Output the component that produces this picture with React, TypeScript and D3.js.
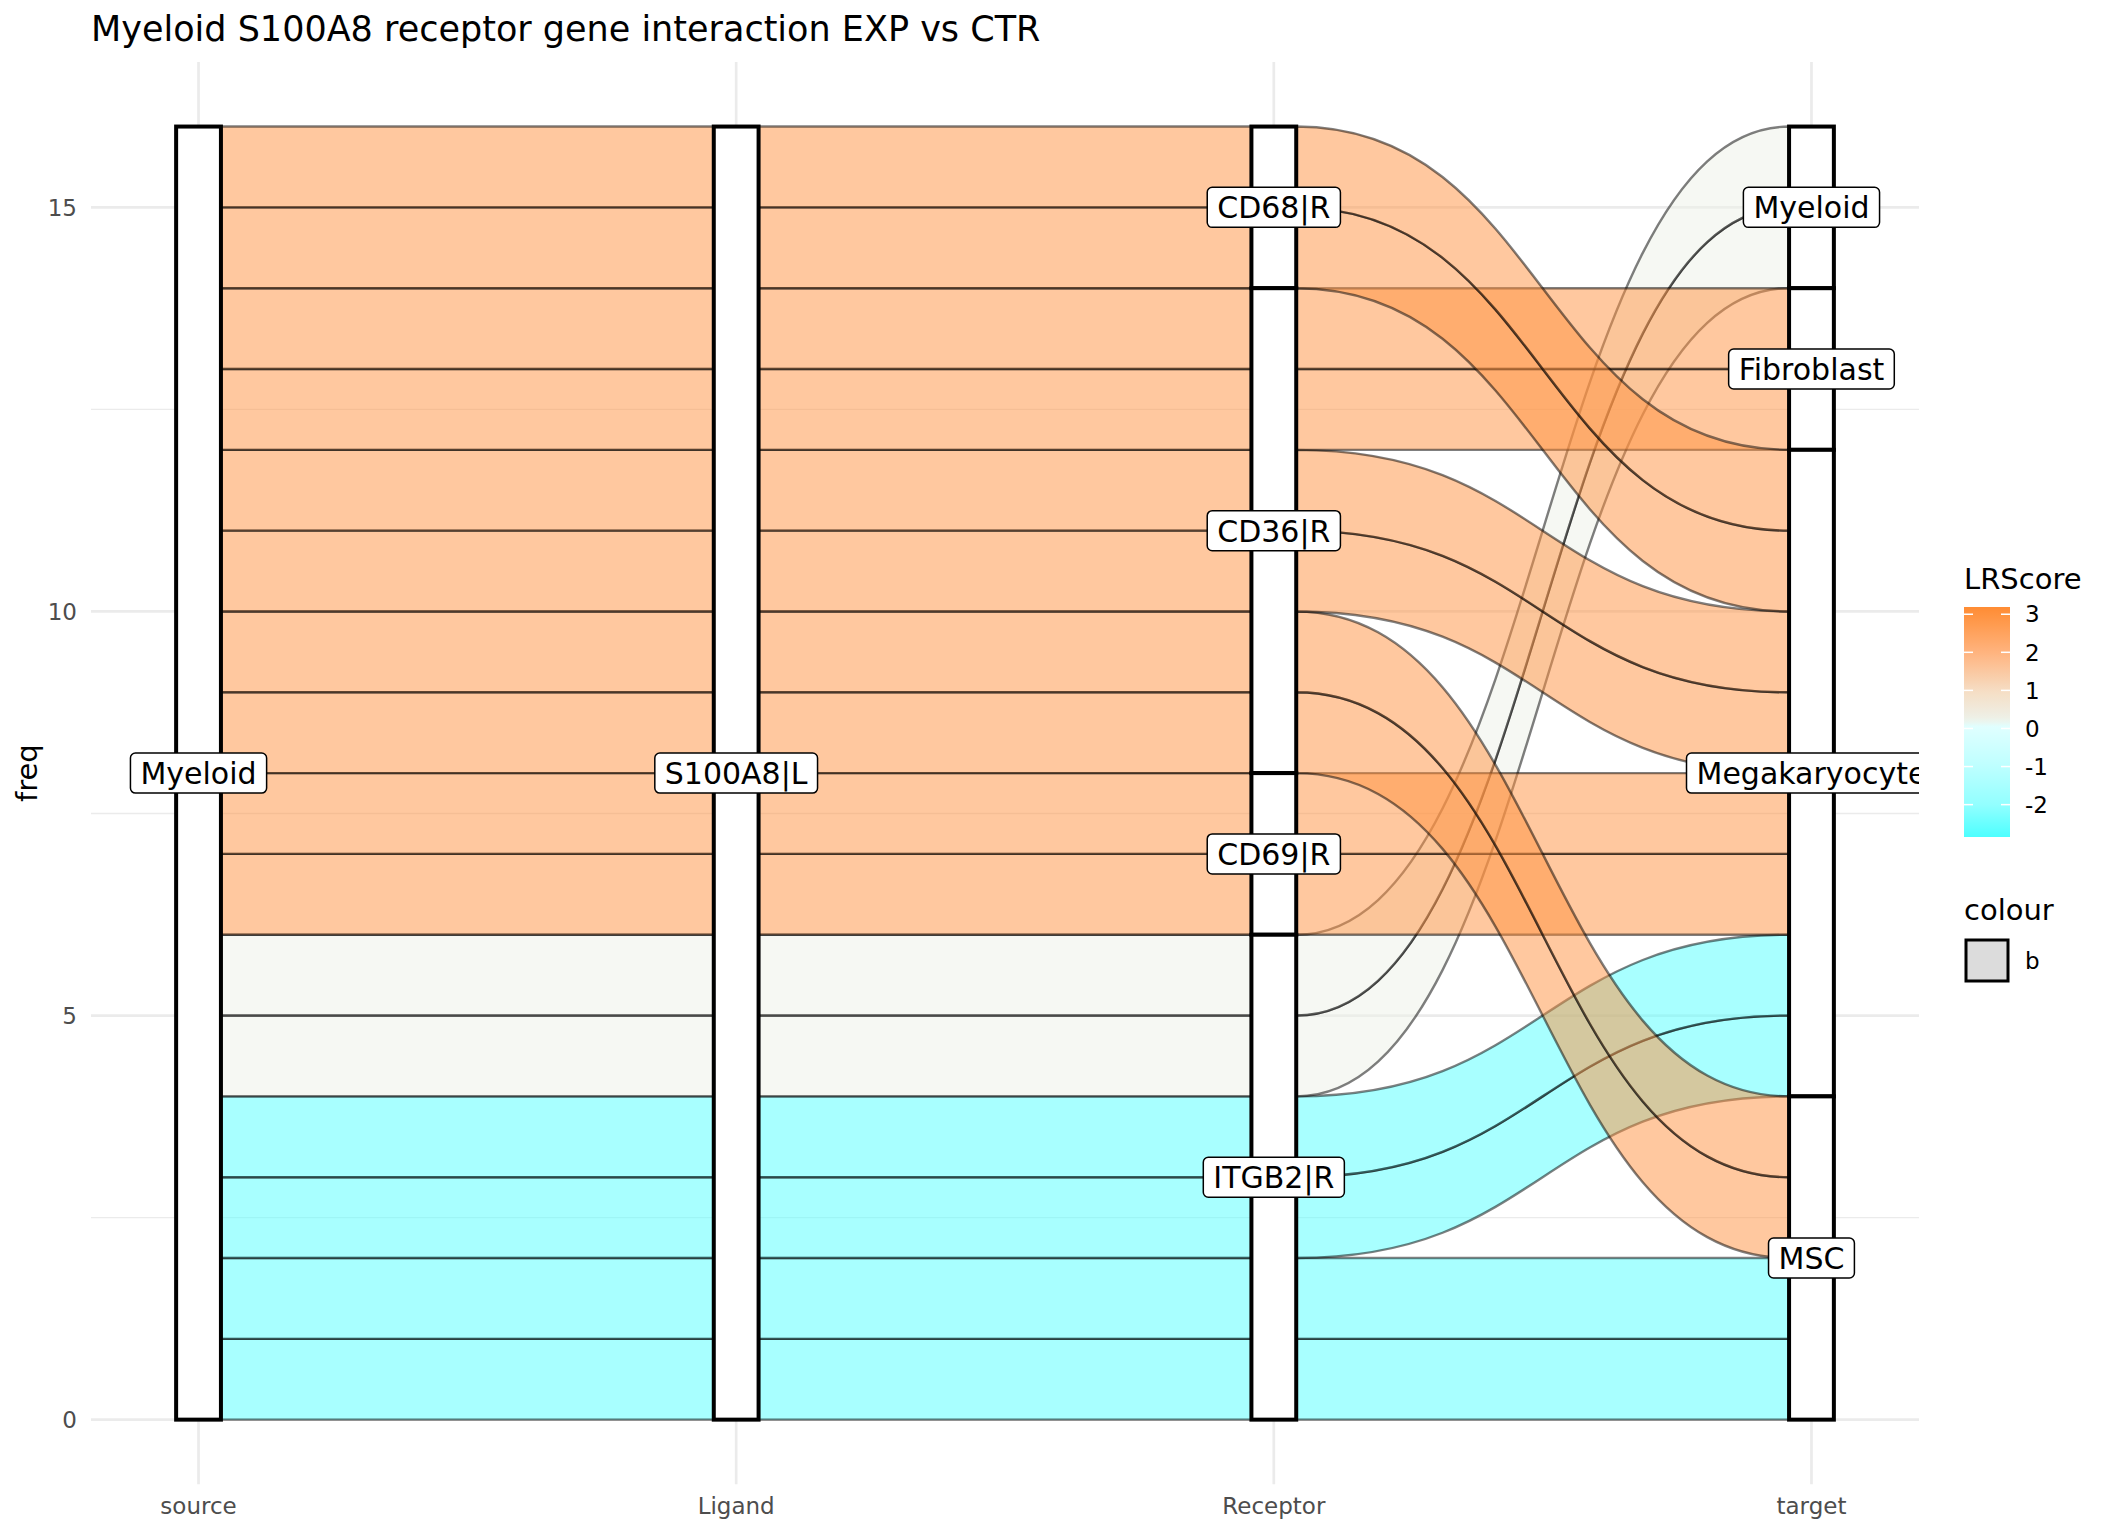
import React, { useEffect, useRef } from "react";
import * as d3 from "d3";

// axes of the alluvium and the order of strata on each (top to bottom)
const axes = ["source", "Ligand", "Receptor", "target"];
const sourceOrder = ["Myeloid"];
const ligandOrder = ["S100A8|L"];
const receptorOrder = ["CD68|R", "CD36|R", "CD69|R", "ITGB2|R"];
const targetOrder = ["Myeloid", "Fibroblast", "Megakaryocyte", "MSC"];

// one row per interaction
const flowSource = [
  "Myeloid", "Myeloid", "Myeloid", "Myeloid", "Myeloid", "Myeloid", "Myeloid", "Myeloid",
  "Myeloid", "Myeloid", "Myeloid", "Myeloid", "Myeloid", "Myeloid", "Myeloid", "Myeloid",
];
const flowLigand = [
  "S100A8|L", "S100A8|L", "S100A8|L", "S100A8|L", "S100A8|L", "S100A8|L", "S100A8|L", "S100A8|L",
  "S100A8|L", "S100A8|L", "S100A8|L", "S100A8|L", "S100A8|L", "S100A8|L", "S100A8|L", "S100A8|L",
];
const flowReceptor = [
  "ITGB2|R", "ITGB2|R", "ITGB2|R", "ITGB2|R", "ITGB2|R", "ITGB2|R", "CD69|R", "CD69|R",
  "CD36|R", "CD36|R", "CD36|R", "CD36|R", "CD36|R", "CD36|R", "CD68|R", "CD68|R",
];
const flowTarget = [
  "MSC", "MSC", "Megakaryocyte", "Megakaryocyte", "Myeloid", "Myeloid", "Megakaryocyte", "Megakaryocyte",
  "MSC", "MSC", "Megakaryocyte", "Megakaryocyte", "Fibroblast", "Fibroblast", "Megakaryocyte", "Megakaryocyte",
];
const flowScore = [-2.8, -2.8, -2.8, -2.8, 0.25, 0.25, 3.0, 3.0, 3.0, 3.0, 3.0, 3.0, 3.0, 3.0, 3.0, 3.0];
const flowFreq = [1, 1, 1, 1, 1, 1, 1, 1, 1, 1, 1, 1, 1, 1, 1, 1];

const yTicks = [0, 5, 10, 15];
const yMinor = [2.5, 7.5, 12.5];
const scoreTicks = [3, 2, 1, 0, -1, -2];
const scoreLimits = [-2.85, 3.19];

const W = 2112;
const H = 1536;
const font = "DejaVu Sans, sans-serif";

// LRScore colour ramp
const scoreColor = d3
  .scaleLinear<string>()
  .domain([-2.85, -2, -1, 0.1, 0.2, 1, 2, 3.19])
  .range(["#4dffff", "#92ffff", "#bdffff", "#e2ffff", "#edf2ea", "#f6ddc3", "#ffb37e", "#ff8c33"])
  .interpolate(d3.interpolateRgb)
  .clamp(true);

function App() {
  const ref = useRef<SVGSVGElement>(null);

  useEffect(() => {
    const svg = d3.select(ref.current);
    svg.selectAll("*").remove();

    const x = d3.scaleLinear().domain([-0.2, 3.2]).range([91, 1919]);
    const y = d3.scaleLinear().domain([-0.8, 16.8]).range([1484.3, 61.9]);
    const halfW = (x(1 / 12) - x(0)) / 2;

    const cols = [flowSource, flowLigand, flowReceptor, flowTarget];
    const orders = [sourceOrder, ligandOrder, receptorOrder, targetOrder];
    const keyAxes = [
      [0, 1, 2, 3],
      [1, 0, 2, 3],
      [2, 3, 1, 0],
      [3, 2, 1, 0],
    ];
    const n = flowFreq.length;
    const rank = (a: number, i: number) =>
      orders[a].length - 1 - orders[a].indexOf(cols[a][i]);

    // stack lodes at every axis, bottom to top
    const pos: { y0: number; y1: number }[][] = axes.map((_, a) => {
      const idx = d3.range(n).sort((i, j) => {
        for (const k of keyAxes[a]) {
          const d = rank(k, i) - rank(k, j);
          if (d !== 0) return d;
        }
        return i - j;
      });
      const out: { y0: number; y1: number }[] = new Array(n);
      let c = 0;
      idx.forEach((i) => {
        out[i] = { y0: c, y1: c + flowFreq[i] };
        c += flowFreq[i];
      });
      return out;
    });

    const defs = svg.append("defs");
    defs
      .append("clipPath")
      .attr("id", "panel")
      .append("rect")
      .attr("x", 91)
      .attr("y", 61.9)
      .attr("width", 1919 - 91)
      .attr("height", 1484.3 - 61.9);

    svg.append("rect").attr("width", W).attr("height", H).attr("fill", "white");

    // grid
    const grid = svg.append("g");
    grid
      .selectAll(".minor")
      .data(yMinor)
      .enter()
      .append("line")
      .attr("x1", 91)
      .attr("x2", 1919)
      .attr("y1", (d) => y(d))
      .attr("y2", (d) => y(d))
      .attr("stroke", "#ebebeb")
      .attr("stroke-width", 1.4);
    grid
      .selectAll(".major")
      .data(yTicks)
      .enter()
      .append("line")
      .attr("x1", 91)
      .attr("x2", 1919)
      .attr("y1", (d) => y(d))
      .attr("y2", (d) => y(d))
      .attr("stroke", "#ebebeb")
      .attr("stroke-width", 2.7);
    grid
      .selectAll(".vert")
      .data(axes)
      .enter()
      .append("line")
      .attr("x1", (_, i) => x(i))
      .attr("x2", (_, i) => x(i))
      .attr("y1", 61.9)
      .attr("y2", 1484.3)
      .attr("stroke", "#ebebeb")
      .attr("stroke-width", 2.7);

    const panel = svg.append("g").attr("clip-path", "url(#panel)");

    // flows
    const flowPath = (a: number, i: number) => {
      const xa = x(a) + halfW;
      const xb = x(a + 1) - halfW;
      const xm = (xa + xb) / 2;
      const p = pos[a][i];
      const q = pos[a + 1][i];
      return (
        `M${xa},${y(p.y1)} C${xm},${y(p.y1)} ${xm},${y(q.y1)} ${xb},${y(q.y1)}` +
        ` L${xb},${y(q.y0)} C${xm},${y(q.y0)} ${xm},${y(p.y0)} ${xa},${y(p.y0)} Z`
      );
    };
    for (let a = 0; a < axes.length - 1; a++) {
      panel
        .append("g")
        .selectAll("path")
        .data(d3.range(n))
        .enter()
        .append("path")
        .attr("d", (i) => flowPath(a, i))
        .attr("fill", (i) => scoreColor(flowScore[i]))
        .attr("fill-opacity", 0.5)
        .attr("stroke", "black")
        .attr("stroke-opacity", 0.5)
        .attr("stroke-width", 2.4);
    }

    // strata
    const strata: { a: number; name: string; y0: number; y1: number }[] = [];
    axes.forEach((_, a) => {
      orders[a].forEach((name) => {
        const members = d3.range(n).filter((i) => cols[a][i] === name);
        strata.push({
          a,
          name,
          y0: d3.min(members, (i) => pos[a][i].y0) as number,
          y1: d3.max(members, (i) => pos[a][i].y1) as number,
        });
      });
    });
    panel
      .append("g")
      .selectAll("rect")
      .data(strata)
      .enter()
      .append("rect")
      .attr("x", (d) => x(d.a) - halfW)
      .attr("y", (d) => y(d.y1))
      .attr("width", halfW * 2)
      .attr("height", (d) => y(d.y0) - y(d.y1))
      .attr("fill", "white")
      .attr("stroke", "black")
      .attr("stroke-width", 4);

    // stratum labels
    strata.forEach((d) => {
      const cx = x(d.a);
      const cy = y((d.y0 + d.y1) / 2);
      const g = panel.append("g");
      const box = g.append("rect");
      const t = g
        .append("text")
        .attr("x", cx)
        .attr("y", cy + 11)
        .attr("text-anchor", "middle")
        .attr("font-family", font)
        .attr("font-size", 30)
        .attr("fill", "black")
        .text(d.name);
      const tw = (t.node() as SVGTextElement).getComputedTextLength();
      box
        .attr("x", cx - tw / 2 - 10)
        .attr("y", cy - 20)
        .attr("width", tw + 20)
        .attr("height", 40)
        .attr("rx", 5)
        .attr("fill", "white")
        .attr("stroke", "black")
        .attr("stroke-width", 1.5);
    });

    // axes text
    svg
      .append("g")
      .selectAll("text")
      .data(yTicks)
      .enter()
      .append("text")
      .attr("x", 77)
      .attr("y", (d) => y(d) + 8.2)
      .attr("text-anchor", "end")
      .attr("font-family", font)
      .attr("font-size", 23)
      .attr("fill", "#4d4d4d")
      .text((d) => d);
    svg
      .append("g")
      .selectAll("text")
      .data(axes)
      .enter()
      .append("text")
      .attr("x", (_, i) => x(i))
      .attr("y", 1514)
      .attr("text-anchor", "middle")
      .attr("font-family", font)
      .attr("font-size", 23)
      .attr("fill", "#4d4d4d")
      .text((d) => d);
    svg
      .append("text")
      .attr("transform", `translate(37,${(61.9 + 1484.3) / 2}) rotate(-90)`)
      .attr("text-anchor", "middle")
      .attr("font-family", font)
      .attr("font-size", 29)
      .attr("fill", "black")
      .text("freq");

    svg
      .append("text")
      .attr("x", 91)
      .attr("y", 41)
      .attr("font-family", font)
      .attr("font-size", 35)
      .attr("fill", "black")
      .text("Myeloid S100A8 receptor gene interaction EXP vs CTR");

    // LRScore colourbar
    const barTop = 607;
    const barBottom = 837;
    const ls = d3.scaleLinear().domain(scoreLimits).range([barBottom, barTop]);
    const grad = defs
      .append("linearGradient")
      .attr("id", "lrgrad")
      .attr("x1", 0)
      .attr("y1", 1)
      .attr("x2", 0)
      .attr("y2", 0);
    d3.range(0, 1.0001, 0.02).forEach((f) => {
      grad
        .append("stop")
        .attr("offset", f)
        .attr("stop-color", scoreColor(scoreLimits[0] + f * (scoreLimits[1] - scoreLimits[0])));
    });
    const leg = svg.append("g");
    leg
      .append("text")
      .attr("x", 1964)
      .attr("y", 589)
      .attr("font-family", font)
      .attr("font-size", 29)
      .attr("fill", "black")
      .text("LRScore");
    leg
      .append("rect")
      .attr("x", 1964)
      .attr("y", barTop)
      .attr("width", 46)
      .attr("height", barBottom - barTop)
      .attr("fill", "url(#lrgrad)");
    scoreTicks.forEach((v) => {
      [
        [1964, 1973],
        [2001, 2010],
      ].forEach(([a, b]) => {
        leg
          .append("line")
          .attr("x1", a)
          .attr("x2", b)
          .attr("y1", ls(v))
          .attr("y2", ls(v))
          .attr("stroke", "white")
          .attr("stroke-width", 1.5);
      });
      leg
        .append("text")
        .attr("x", 2025)
        .attr("y", ls(v) + 8.2)
        .attr("font-family", font)
        .attr("font-size", 23)
        .attr("fill", "black")
        .text(v);
    });

    // colour legend
    leg
      .append("text")
      .attr("x", 1964)
      .attr("y", 920)
      .attr("font-family", font)
      .attr("font-size", 29)
      .attr("fill", "black")
      .text("colour");
    leg
      .append("rect")
      .attr("x", 1966)
      .attr("y", 940)
      .attr("width", 42)
      .attr("height", 41)
      .attr("fill", "#dcdcdc")
      .attr("stroke", "black")
      .attr("stroke-width", 3);
    leg
      .append("text")
      .attr("x", 2025)
      .attr("y", 969)
      .attr("font-family", font)
      .attr("font-size", 23)
      .attr("fill", "black")
      .text("b");
  }, []);

  return (
    <div style={{ position: "absolute", left: 0, top: 0 }}>
      <svg ref={ref} width={W} height={H} style={{ display: "block" }} />
    </div>
  );
}

export default App;
